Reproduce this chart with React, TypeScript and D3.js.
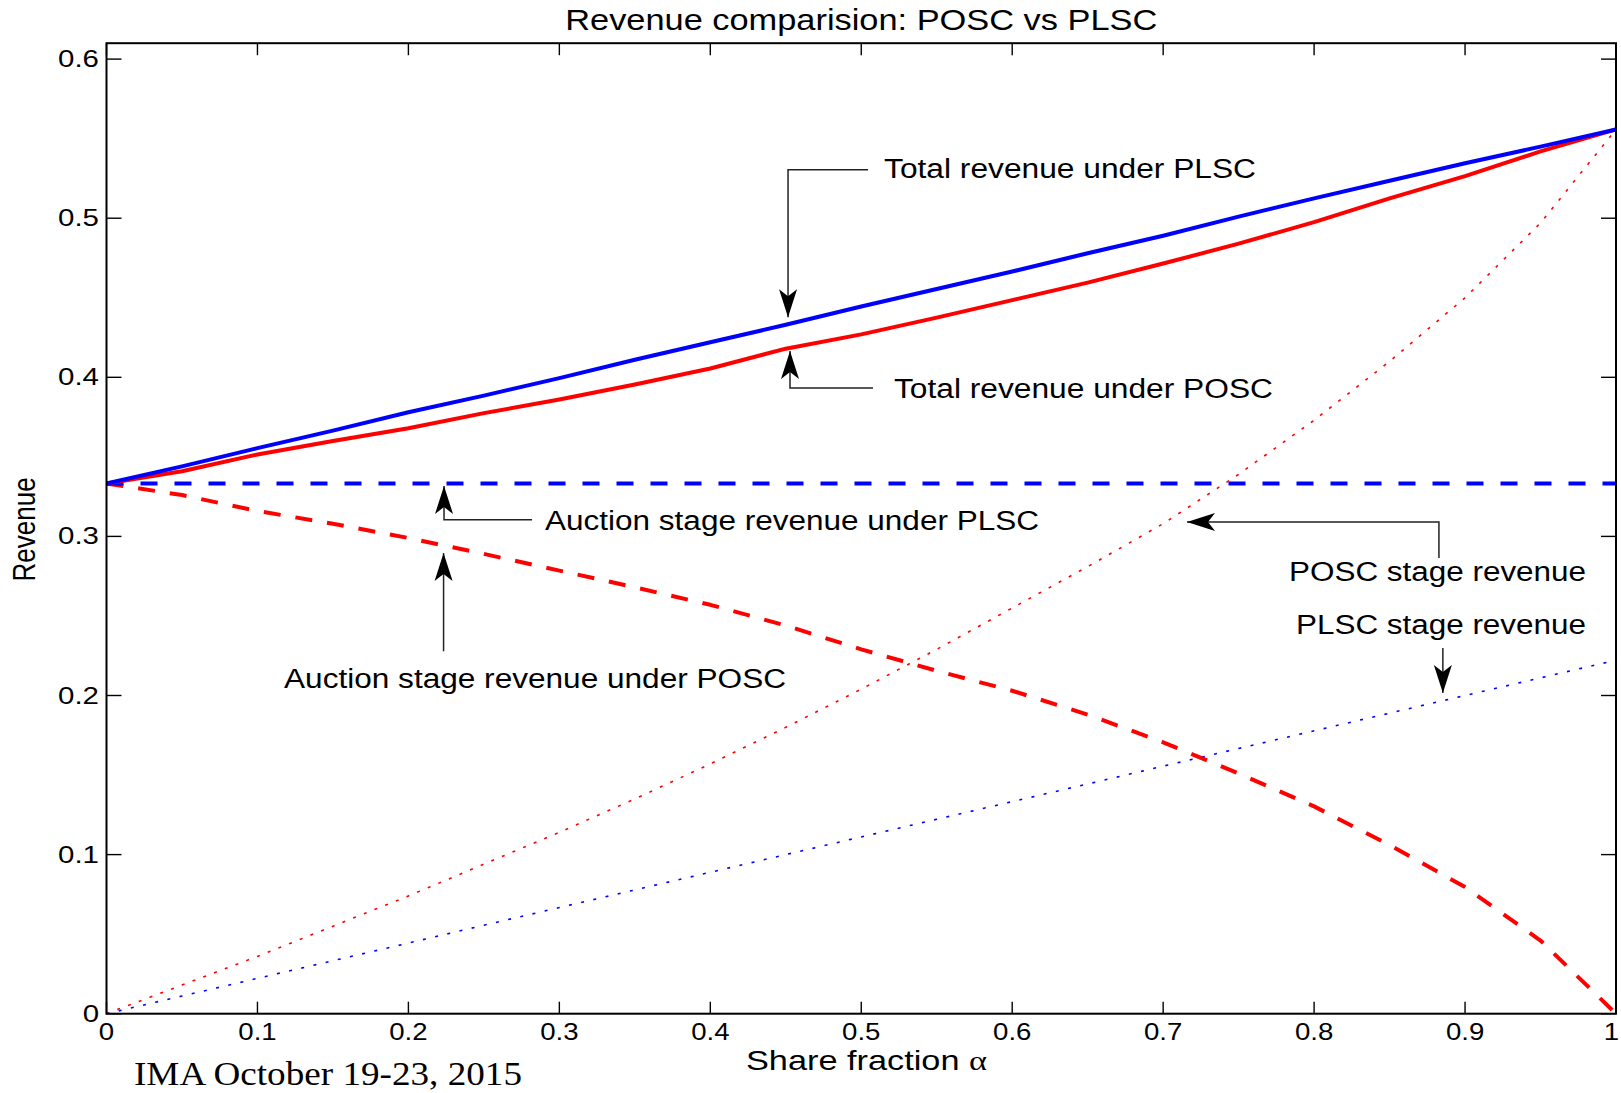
import React from "react";
import * as d3 from "d3";

// share fraction alpha, sampled every 0.05
const alphas = [0, 0.05, 0.1, 0.15, 0.2, 0.25, 0.3, 0.35, 0.4, 0.45, 0.5, 0.55, 0.6, 0.65, 0.7, 0.75, 0.8, 0.85, 0.9, 0.95, 1];

const totalPLSC = [0.3333, 0.344, 0.3555, 0.3665, 0.378, 0.3885, 0.3995, 0.411, 0.422, 0.433, 0.4445, 0.4555, 0.4665, 0.478, 0.489, 0.501, 0.5125, 0.5235, 0.5345, 0.545, 0.5558];
const totalPOSC = [0.3333, 0.341, 0.3515, 0.36, 0.368, 0.3775, 0.386, 0.3955, 0.4055, 0.418, 0.427, 0.4375, 0.4485, 0.4595, 0.4715, 0.484, 0.4975, 0.5125, 0.5265, 0.542, 0.5558];
const auctionPLSC = [0.3333, 0.3333, 0.3333, 0.3333, 0.3333, 0.3333, 0.3333, 0.3333, 0.3333, 0.3333, 0.3333, 0.3333, 0.3333, 0.3333, 0.3333, 0.3333, 0.3333, 0.3333, 0.3333, 0.3333, 0.3333];
const auctionPOSC = [0.3333, 0.326, 0.316, 0.308, 0.299, 0.289, 0.2785, 0.268, 0.257, 0.244, 0.229, 0.2155, 0.203, 0.188, 0.1706, 0.151, 0.1303, 0.106, 0.0796, 0.046, 0];
const stagePOSC = [0, 0.018, 0.036, 0.055, 0.074, 0.094, 0.114, 0.135, 0.157, 0.18, 0.204, 0.229, 0.255, 0.281, 0.308, 0.339, 0.373, 0.41, 0.45, 0.497, 0.5558];
const stagePLSC = [0, 0.0111, 0.0222, 0.0333, 0.0444, 0.0556, 0.0667, 0.0778, 0.0889, 0.1, 0.1111, 0.1222, 0.1333, 0.1444, 0.1556, 0.1667, 0.1778, 0.1889, 0.2, 0.2111, 0.2222];

const xTicks = [0, 0.1, 0.2, 0.3, 0.4, 0.5, 0.6, 0.7, 0.8, 0.9, 1];
const xTickLabels = ["0", "0.1", "0.2", "0.3", "0.4", "0.5", "0.6", "0.7", "0.8", "0.9", "1"];
const yTicks = [0, 0.1, 0.2, 0.3, 0.4, 0.5, 0.6];
const yTickLabels = ["0", "0.1", "0.2", "0.3", "0.4", "0.5", "0.6"];

// annotation labels: text anchor and arrow path, in data units
const notes = [
  { text: "Total revenue under PLSC", at: [0.5151, 0.5252], len: 372, path: [[0.5045, 0.5305], [0.4515, 0.5305], [0.4515, 0.4378]] },
  { text: "Total revenue under POSC", at: [0.5217, 0.3869], len: 379, path: [[0.5078, 0.3933], [0.4528, 0.3933], [0.4528, 0.4165]] },
  { text: "Auction stage revenue under PLSC", at: [0.2905, 0.304], len: 494, path: [[0.2819, 0.3104], [0.2236, 0.3104], [0.2236, 0.3317]] },
  { text: "Auction stage revenue under POSC", at: [0.1176, 0.2047], len: 502, path: [[0.2233, 0.2278], [0.2233, 0.2895]] },
  { text: "POSC stage revenue", at: [0.7834, 0.2719], len: 297, path: [[0.8827, 0.2864], [0.8827, 0.309], [0.7158, 0.309]] },
  { text: "PLSC stage revenue", at: [0.788, 0.2386], len: 290, path: [[0.8853, 0.2298], [0.8853, 0.2015]] },
];

const W = 1621;
const H = 1093;
const left = 106.5, right = 1616, top = 43.2, bottom = 1013.7;
const sans = "'Liberation Sans', Arial, Helvetica, sans-serif";

const x = d3.scaleLinear().domain([0, 1]).range([left, right]);
const y = d3.scaleLinear().domain([0, 0.61]).range([bottom, top]);

const series = [
  { vals: stagePOSC, color: "#ff0000", width: 1.6, dash: "3,8.5" },
  { vals: stagePLSC, color: "#0000ff", width: 1.6, dash: "3,9.5" },
  { vals: auctionPOSC, color: "#ff0000", width: 4, dash: "17,15" },
  { vals: auctionPLSC, color: "#0000ff", width: 4, dash: "17,17" },
  { vals: totalPOSC, color: "#ff0000", width: 4, dash: null },
  { vals: totalPLSC, color: "#0000ff", width: 4, dash: null },
];

const line = d3.line<number>().x((d, i) => x(alphas[i])).y((d) => y(d));

function Arrow({ path }: { path: number[][] }) {
  const pts = path.map(([a, v]) => [x(a), y(v)]);
  const d = "M" + pts.map((p) => p.join(",")).join("L");
  const [tx, ty] = pts[pts.length - 1];
  const [px, py] = pts[pts.length - 2];
  const ang = (Math.atan2(ty - py, tx - px) * 180) / Math.PI;
  return (
    <g>
      <path d={d} fill="none" stroke="#222" strokeWidth={1.5} />
      <path
        d="M0,0L-28,-9L-21,0L-28,9Z"
        fill="#000"
        transform={`translate(${tx},${ty}) rotate(${ang})`}
      />
    </g>
  );
}

export default function App() {
  return (
    <svg width={W} height={H} style={{ position: "absolute", left: 0, top: 0, background: "#fff" }}>
      <rect width={W} height={H} fill="#fff" />
      <text x={x(0.5)} y={30} textAnchor="middle" fontFamily={sans} fontSize={30} textLength={592} lengthAdjust="spacingAndGlyphs">
        Revenue comparision: POSC vs PLSC
      </text>

      {series.map((s, i) => (
        <path
          key={i}
          d={line(s.vals) || ""}
          fill="none"
          stroke={s.color}
          strokeWidth={s.width}
          strokeDasharray={s.dash || undefined}
          strokeLinejoin="round"
        />
      ))}

      {/* axes box and ticks */}
      <rect x={left} y={top} width={right - left} height={bottom - top} fill="none" stroke="#000" strokeWidth={2} />
      {xTicks.map((t, i) => {
        const last = i === xTicks.length - 1;
        return (
          <g key={"x" + i}>
            <line x1={x(t)} x2={x(t)} y1={bottom} y2={bottom - 12} stroke="#000" strokeWidth={1.4} />
            <line x1={x(t)} x2={x(t)} y1={top} y2={top + 12} stroke="#000" strokeWidth={1.4} />
            <text
              transform={`translate(${last ? W - 2 : x(t)},1040) scale(1.2,1)`}
              textAnchor={last ? "end" : "middle"}
              fontFamily={sans}
              fontSize={23}
            >
              {xTickLabels[i]}
            </text>
          </g>
        );
      })}
      {yTicks.map((t, i) => (
        <g key={"y" + i}>
          <line x1={left} x2={left + 15} y1={y(t)} y2={y(t)} stroke="#000" strokeWidth={1.4} />
          <line x1={right} x2={right - 15} y1={y(t)} y2={y(t)} stroke="#000" strokeWidth={1.4} />
          <text transform={`translate(99,${y(t) + 8}) scale(1.28,1)`} textAnchor="end" fontFamily={sans} fontSize={23}>
            {yTickLabels[i]}
          </text>
        </g>
      ))}

      <text x={746} y={1070} fontFamily={sans} fontSize={28} textLength={241} lengthAdjust="spacingAndGlyphs">
        Share fraction <tspan fontFamily="'Liberation Serif', 'Times New Roman', serif">α</tspan>
      </text>
      <text
        transform={`translate(35,${y(0.3) - 7}) rotate(-90)`}
        textAnchor="middle"
        fontFamily={sans}
        fontSize={31}
        textLength={104}
        lengthAdjust="spacingAndGlyphs"
      >
        Revenue
      </text>

      {notes.map((n, i) => (
        <g key={"n" + i}>
          <Arrow path={n.path} />
          <text x={x(n.at[0])} y={y(n.at[1])} fontFamily={sans} fontSize={27} textLength={n.len} lengthAdjust="spacingAndGlyphs">
            {n.text}
          </text>
        </g>
      ))}

      <text x={134} y={1085} fontFamily="'Liberation Serif', 'Times New Roman', serif" fontSize={34} textLength={388} lengthAdjust="spacingAndGlyphs">
        IMA October 19-23, 2015
      </text>
    </svg>
  );
}
